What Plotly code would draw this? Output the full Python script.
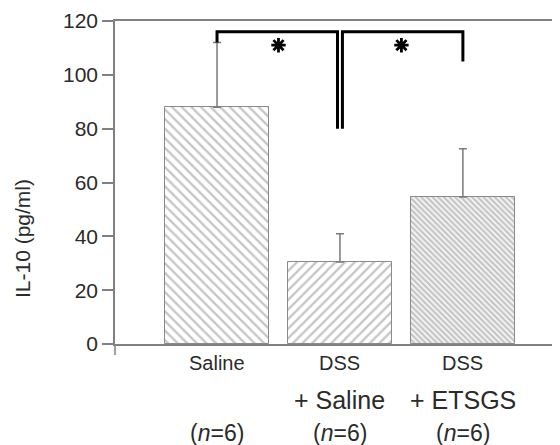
import plotly.graph_objects as go

categories = ["Saline", "DSS + Saline", "DSS + ETSGS"]
label_line1 = ["Saline", "DSS", "DSS"]
label_line2 = ["", "+ Saline", "+ ETSGS"]
label_n = ["(<i>n</i>=6)", "(<i>n</i>=6)", "(<i>n</i>=6)"]
means = [88, 30.5, 54.6]
sd_upper = [24, 10.5, 17.9]
y_ticks = [0, 20, 40, 60, 80, 100, 120]

bracket_top = 116
bracket1_drop = 80
bracket2_drop = 105
star_y = 111

FONT = "Liberation Sans, Arial, Helvetica, sans-serif"
TXT = "#2b2b2b"
xs = list(range(len(categories)))
d = 0.02

fig = go.Figure()

patterns = [
    dict(shape="\\", size=6.8, solidity=0.33, fgcolor="#8c8c8c", bgcolor="white"),
    dict(shape="/", size=6.8, solidity=0.33, fgcolor="#8c8c8c", bgcolor="white"),
    dict(shape="\\", size=4, solidity=0.5, fgcolor="#8f8f8f", bgcolor="#f4f4f4"),
]

for i in xs:
    fig.add_trace(go.Bar(
        x=[xs[i]], y=[means[i]], width=0.84,
        marker=dict(color="white", pattern=patterns[i], line=dict(color="#8a8a8a", width=1)),
        error_y=dict(type="data", symmetric=False, array=[sd_upper[i]], arrayminus=[0],
                     color="#7a7a7a", thickness=1.5, width=4),
        showlegend=False, hoverinfo="skip",
    ))

# significance brackets
fig.add_trace(go.Scatter(
    x=[xs[0], xs[0], xs[1] - d, xs[1] - d],
    y=[means[0] + sd_upper[0], bracket_top, bracket_top, bracket1_drop],
    mode="lines", line=dict(color="black", width=3), showlegend=False, hoverinfo="skip"))
fig.add_trace(go.Scatter(
    x=[xs[1] + d, xs[1] + d, xs[2], xs[2]],
    y=[bracket1_drop, bracket_top, bracket_top, bracket2_drop],
    mode="lines", line=dict(color="black", width=3), showlegend=False, hoverinfo="skip"))
fig.add_trace(go.Scatter(
    x=[0.5, 1.5], y=[star_y, star_y], mode="markers",
    marker=dict(symbol="asterisk-open", size=12, color="black",
                line=dict(color="black", width=2.8)),
    showlegend=False, hoverinfo="skip"))

annotations = []
for i in xs:
    annotations.append(dict(x=xs[i], y=0, xref="x", yref="y", yanchor="middle", yshift=-19,
                            text=label_line1[i], showarrow=False,
                            font=dict(family=FONT, size=20, color=TXT)))
    if label_line2[i]:
        annotations.append(dict(x=xs[i], y=0, xref="x", yref="y", yanchor="middle", yshift=-56,
                                text=label_line2[i], showarrow=False,
                                font=dict(family=FONT, size=25, color=TXT)))
    annotations.append(dict(x=xs[i], y=0, xref="x", yref="y", yanchor="middle", yshift=-89,
                            text=label_n[i], showarrow=False,
                            font=dict(family=FONT, size=23, color=TXT)))

annotations.append(dict(x=-0.209, xref="paper", y=0.328, yref="paper",
                        xanchor="center", yanchor="middle",
                        text="IL-10 (pg/ml)", textangle=-90, showarrow=False,
                        font=dict(family=FONT, size=21, color=TXT)))

fig.update_layout(
    width=552, height=437,
    margin=dict(l=107, r=0, t=13, b=101, autoexpand=False),
    plot_bgcolor="white", paper_bgcolor="white",
    bargap=0,
    annotations=annotations,
    shapes=[dict(type="line", xref="paper", yref="paper", x0=0, x1=0, y0=0, y1=-0.034,
                 line=dict(color="#808080", width=1.5))],
    xaxis=dict(range=[-0.83, 2.79], showticklabels=False, ticks="", showgrid=False,
               zeroline=False, showline=True, linecolor="#808080", linewidth=1.5, mirror=True),
    yaxis=dict(range=[0, 120], tickvals=y_ticks, ticks="outside", ticklen=11,
               tickcolor="#808080", tickwidth=1.5, showgrid=False, zeroline=False,
               showline=True, linecolor="#808080", linewidth=1.5, mirror=False,
               automargin=False,
               tickfont=dict(family=FONT, size=21, color=TXT)),
)

fig.write_html("out.html")
